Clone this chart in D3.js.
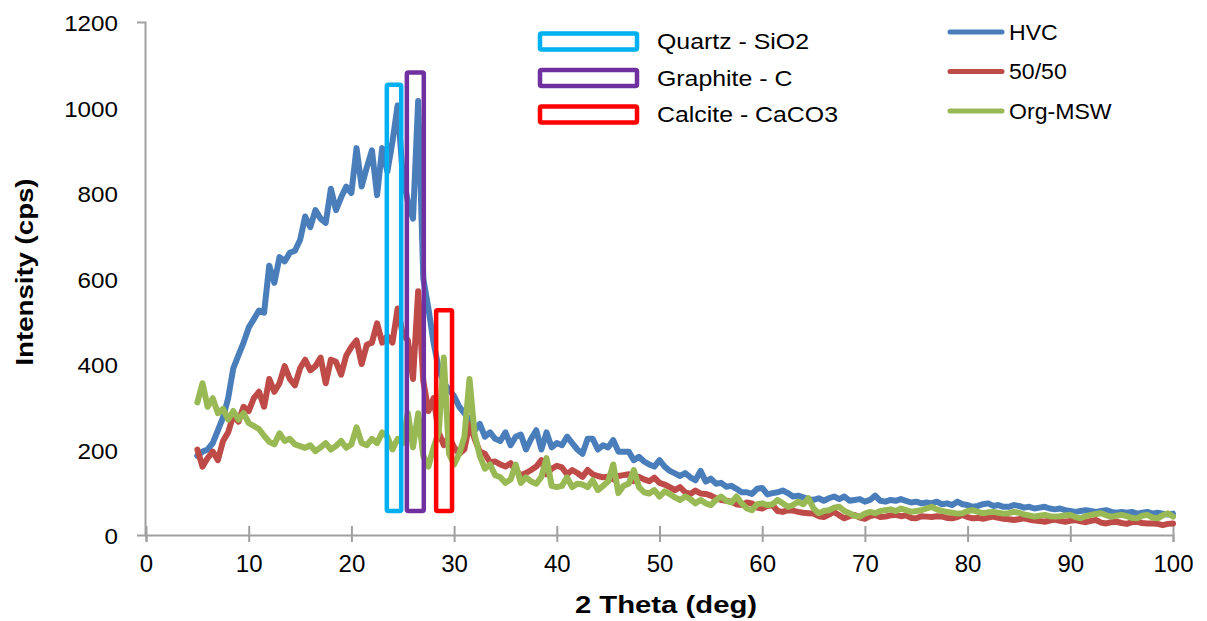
<!DOCTYPE html>
<html>
<head>
<meta charset="utf-8">
<script src="https://cdn.jsdelivr.net/npm/d3@7"></script>
<style>
body { margin: 0; background: #fff; }
svg { display: block; }
text { font-family: "Liberation Sans", Arial, sans-serif; fill: #000; }
</style>
</head>
<body>
<svg id="chart" width="1207" height="621"></svg>
<script>
// scan grid: first angle and step (deg)
var THETA_START = 5;
var THETA_STEP = 0.5;

// intensities (cps), one row = 5 deg
var hvc = [
	185, 195, 200, 215, 245, 275, 320, 390, 420, 450,   // 5
	485, 505, 525, 520, 630, 590, 650, 640, 660, 665,   // 10
	690, 745, 720, 760, 740, 730, 810, 760, 790, 815,   // 15
	800, 905, 815, 860, 900, 795, 905, 850, 920, 1005,  // 20
	840, 780, 740, 1015, 600, 530, 450, 390, 355, 340,  // 25
	325, 300, 285, 270, 245, 260, 230, 240, 225, 220,   // 30
	240, 210, 230, 235, 200, 225, 245, 200, 240, 205,   // 35
	215, 210, 230, 215, 200, 190, 225, 225, 200, 210,   // 40
	205, 222, 195, 195, 195, 175, 183, 172, 165, 160,   // 45
	175, 160, 150, 144, 138, 145, 135, 128, 150, 125,   // 50
	132, 120, 122, 113, 115, 108, 100, 100, 96, 108,    // 55
	110, 95, 98, 100, 104, 98, 90, 92, 88, 84,          // 60
	82, 86, 80, 86, 90, 84, 90, 80, 82, 84,             // 65
	78, 82, 92, 80, 78, 82, 80, 84, 80, 76,             // 70
	78, 74, 76, 74, 78, 72, 74, 70, 78, 72,             // 75
	70, 66, 68, 72, 74, 68, 70, 66, 66, 70,             // 80
	68, 64, 66, 62, 64, 66, 62, 60, 62, 58,             // 85
	56, 54, 56, 58, 56, 54, 56, 58, 54, 52,             // 90
	54, 52, 54, 50, 52, 54, 50, 52, 50, 48,             // 95
	50
];

var mix5050 = [
	200, 160, 180, 195, 175, 220, 240, 280, 265, 300,
	290, 320, 335, 300, 365, 335, 355, 395, 365, 350,
	390, 410, 385, 395, 415, 355, 410, 405, 375, 420,
	440, 455, 400, 445, 450, 495, 450, 465, 450, 530,
	470, 455, 365, 570, 360, 290, 320, 240, 210, 230,
	205, 190, 200, 260, 225, 195, 190, 170, 172, 165,
	160, 168, 150, 140, 145, 152, 160, 175, 142, 155,
	162, 158, 142, 152, 145, 136, 152, 142, 138, 135,
	136, 130, 138, 140, 142, 126, 136, 130, 126, 134,
	122, 118, 112, 105, 112, 100, 96, 104, 97, 96,
	92, 86, 82, 80, 78, 72, 70, 76, 74, 64,
	62, 68, 70, 56, 54, 58, 57, 54, 52, 51,
	50, 44, 42, 48, 54, 46, 39, 44, 47, 41,
	38, 44, 47, 42, 43, 46, 47, 44, 46, 40,
	39, 44, 43, 42, 44, 43, 40, 39, 42, 47,
	42, 39, 40, 38, 41, 43, 40, 38, 37, 35,
	37, 39, 36, 34, 33, 31, 34, 36, 33, 31,
	33, 35, 32, 30, 33, 35, 29, 27, 30, 31,
	28, 26, 30, 31, 28, 27, 27, 26, 23, 26,
	27
];

var orgMsw = [
	310, 355, 300, 320, 285, 295, 270, 290, 270, 285,
	262, 255, 248, 232, 218, 212, 238, 220, 225, 212,
	208, 204, 210, 196, 205, 215, 200, 208, 220, 204,
	212, 252, 215, 210, 225, 215, 240, 230, 200, 225,
	215, 285, 205, 285, 185, 160, 205, 240, 415, 190,
	165, 190, 230, 365, 235, 185, 155, 165, 140, 135,
	122, 130, 165, 122, 135, 125, 120, 136, 180, 115,
	112, 115, 135, 112, 120, 118, 112, 128, 105, 115,
	125, 165, 98, 115, 120, 152, 112, 100, 97, 105,
	90, 102, 96, 88, 82, 90, 84, 74, 82, 74,
	70, 82, 90, 80, 76, 90, 74, 62, 58, 72,
	74, 70, 72, 82, 74, 66, 70, 78, 72, 86,
	62, 51, 56, 58, 64, 66, 56, 51, 45, 43,
	50, 54, 51, 56, 58, 60, 56, 62, 58, 54,
	56, 58, 62, 66, 60, 56, 54, 52, 50, 51,
	56, 58, 54, 51, 53, 54, 52, 50, 51, 54,
	52, 48, 46, 43, 45, 47, 44, 43, 44, 46,
	47, 42, 39, 44, 47, 49, 51, 46, 43, 45,
	47, 44, 40, 39, 45, 47, 41, 39, 46, 51,
	43
];

var seriesNames = ["HVC", "50/50", "Org-MSW"];
var seriesValues = [hvc, mix5050, orgMsw];
var seriesColors = ["#4a7ebb", "#be4b48", "#98b954"];

// phase marker boxes drawn on the pattern
var phaseNames = ["Quartz - SiO2", "Graphite - C", "Calcite - CaCO3"];
var phaseFrom = [23.45, 25.4, 28.25];
var phaseTo = [24.85, 27.05, 29.8];
var phaseTop = [1053, 1082, 526];
var phaseBottom = [56, 56, 56];
var phaseColors = ["#00b0f0", "#7030a0", "#ff0000"];

var xTicks = [0, 10, 20, 30, 40, 50, 60, 70, 80, 90, 100];
var yTicks = [0, 200, 400, 600, 800, 1000, 1200];

var svg = d3.select("#chart");

var x = d3.scaleLinear().domain([0, 100]).range([146, 1173]);
var y = d3.scaleLinear().domain([0, 1200]).range([535, 22]);

// widen text along its own direction (the source font runs wide)
function stretch(sel, k) {
	sel.each(function() {
		var w = this.getComputedTextLength();
		d3.select(this).attr("textLength", w * k).attr("lengthAdjust", "spacingAndGlyphs");
	});
}

// axes
var gx = svg.append("g")
	.attr("transform", "translate(0,535)")
	.call(d3.axisBottom(x).tickValues(xTicks).tickFormat(d3.format("d"))
		.tickSizeOuter(0).tickSize(7).tickPadding(13));
gx.selectAll(".tick line").attr("y1", -9).attr("y2", 7);
gx.selectAll(".tick text").style("font-size", "24px");

var gy = svg.append("g")
	.attr("transform", "translate(145,0)")
	.call(d3.axisLeft(y).tickValues(yTicks).tickFormat(d3.format("d"))
		.tickSizeOuter(0).tickSize(8).tickPadding(19));
gy.selectAll(".tick line").attr("x2", 1);
gy.selectAll(".tick text").style("font-size", "22px").attr("dy", "0.4em");
stretch(gy.selectAll(".tick text"), 1.1);

svg.selectAll(".domain, .tick line").attr("stroke", "#a0a0a0").attr("stroke-width", 2);
svg.selectAll(".tick text").attr("fill", "#000").style("font-family", '"Liberation Sans", Arial, sans-serif');

// axis titles
var xt = svg.append("text")
	.attr("x", 666).attr("y", 613)
	.attr("text-anchor", "middle")
	.style("font-size", "24px").style("font-weight", "bold")
	.text("2 Theta (deg)");
stretch(xt, 1.22);

var yt = svg.append("text")
	.attr("transform", "translate(33,272) rotate(-90)")
	.attr("text-anchor", "middle")
	.style("font-size", "23px").style("font-weight", "bold")
	.text("Intensity (cps)");
stretch(yt, 1.2);

// patterns
var line = d3.line()
	.x(function(d, i) { return x(THETA_START + i * THETA_STEP); })
	.y(function(d) { return y(d); });

svg.append("g").selectAll("path")
	.data(seriesValues)
	.enter().append("path")
	.attr("d", line)
	.attr("fill", "none")
	.attr("stroke", function(d, i) { return seriesColors[i]; })
	.attr("stroke-width", 6)
	.attr("stroke-linejoin", "round")
	.attr("stroke-linecap", "round");

// phase boxes
svg.append("g").selectAll("rect")
	.data(phaseNames)
	.enter().append("rect")
	.attr("x", function(d, i) { return x(phaseFrom[i]); })
	.attr("y", function(d, i) { return y(phaseTop[i]); })
	.attr("width", function(d, i) { return x(phaseTo[i]) - x(phaseFrom[i]); })
	.attr("height", function(d, i) { return y(phaseBottom[i]) - y(phaseTop[i]); })
	.attr("rx", 1.5)
	.attr("fill", "none")
	.attr("stroke", function(d, i) { return phaseColors[i]; })
	.attr("stroke-width", 4.5);

// phase legend
var pl = svg.append("g").selectAll("g")
	.data(phaseNames)
	.enter().append("g")
	.attr("transform", function(d, i) { return "translate(540," + (41.5 + i * 36.5) + ")"; });
pl.append("rect")
	.attr("x", 0).attr("y", -8).attr("width", 97).attr("height", 16).attr("rx", 1.5)
	.attr("fill", "none")
	.attr("stroke", function(d, i) { return phaseColors[i]; })
	.attr("stroke-width", 4.5);
var plt = pl.append("text")
	.attr("x", 117).attr("dy", "0.36em")
	.style("font-size", "22px")
	.text(function(d) { return d; });
stretch(plt, 1.13);

// series legend
var sl = svg.append("g").selectAll("g")
	.data(seriesNames)
	.enter().append("g")
	.attr("transform", function(d, i) { return "translate(950," + (32 + i * 39.5) + ")"; });
sl.append("line")
	.attr("x1", 0).attr("x2", 52)
	.attr("stroke", function(d, i) { return seriesColors[i]; })
	.attr("stroke-width", 5)
	.attr("stroke-linecap", "round");
var slt = sl.append("text")
	.attr("x", 59).attr("dy", "0.36em")
	.style("font-size", "22px")
	.text(function(d) { return d; });
stretch(slt, 1.05);
</script>
</body>
</html>
